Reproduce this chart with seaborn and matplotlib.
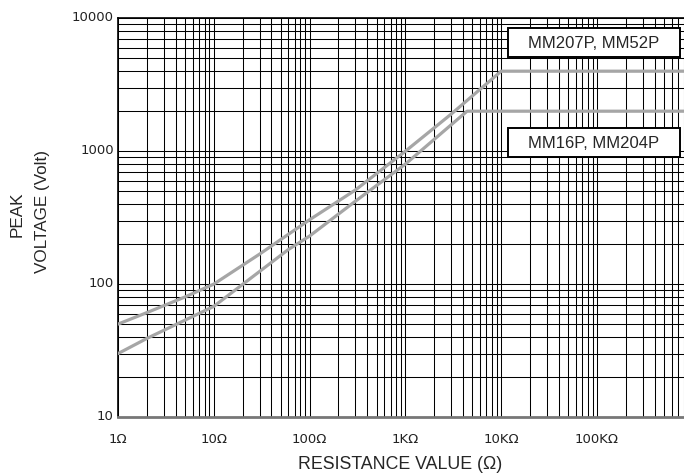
import numpy as np
import pandas as pd
import matplotlib
matplotlib.use("Agg")
import matplotlib.pyplot as plt
import matplotlib.ticker as mticker
import matplotlib.transforms as mtransforms
import seaborn as sns

# ---- data ----
r_upper = [1, 2, 5, 10, 30, 100, 300, 1000, 3000, 10000, 810000]
v_upper = [50, 61, 80, 100, 168, 305, 510, 1000, 1900, 4000, 4000]
r_lower = [1, 2, 10, 60, 100, 300, 1000, 4400, 810000]
v_lower = [30, 39, 68, 182, 230, 420, 800, 2000, 2000]
series_names = ["MM207P, MM52P", "MM16P, MM204P"]

x_ticks = [1, 10, 100, 1000, 10000, 100000]
x_ticklabels = ["1Ω", "10Ω", "100Ω", "1KΩ", "10KΩ", "100KΩ"]
y_ticks = [10, 100, 1000, 10000]
y_ticklabels = ["10", "100", "1000", "10000"]

df = pd.concat([
    pd.DataFrame({"R": r_upper, "V": v_upper, "series": series_names[0]}),
    pd.DataFrame({"R": r_lower, "V": v_lower, "series": series_names[1]}),
], ignore_index=True)

sns.set_style("white")
plt.rcParams["font.family"] = ["Liberation Sans", "DejaVu Sans"]

W, H = 684, 477
fig = plt.figure(figsize=(W / 100, H / 100), dpi=100)
ax_l, ax_r, ax_t, ax_b = 118, 684, 19.3, 418
ax = fig.add_axes([ax_l / W, 1 - ax_b / H, (ax_r - ax_l) / W, (ax_b - ax_t) / H])

sns.lineplot(data=df, x="R", y="V", hue="series", palette=["#a6a6a6", "#a6a6a6"],
             linewidth=2.3, ax=ax, legend=False, sort=False, estimator=None, zorder=3)

ax.set_xscale("log")
ax.set_yscale("log")
ax.set_xlim(1, 10 ** ((ax_r - ax_l) / 95.8))
ax.set_ylim(10, 10000)

ax.xaxis.set_minor_locator(mticker.LogLocator(base=10, subs=np.arange(2, 10), numticks=20))
ax.yaxis.set_minor_locator(mticker.LogLocator(base=10, subs=np.arange(2, 10), numticks=20))
ax.set_xticks(x_ticks)
ax.set_xticklabels(x_ticklabels)
ax.set_yticks(y_ticks)
ax.set_yticklabels(y_ticklabels)
ax.xaxis.set_minor_formatter(mticker.NullFormatter())
ax.yaxis.set_minor_formatter(mticker.NullFormatter())
ax.tick_params(which="both", length=0)
ax.tick_params(axis="x", labelsize=9.5, pad=11, colors="#222222")
ax.tick_params(axis="y", labelsize=9.5, pad=3, colors="#222222")
for lab in ax.get_xticklabels() + ax.get_yticklabels():
    lab.set_family(["DejaVu Sans"])

# y labels sit slightly above their gridline
offset = mtransforms.ScaledTranslation(0, 3 / 100, fig.dpi_scale_trans)
for lab in ax.get_yticklabels():
    lab.set_transform(lab.get_transform() + offset)

ax.grid(which="both", color="black", linewidth=0.75)
ax.set_axisbelow(True)

for s in ["top", "left"]:
    ax.spines[s].set_color("black")
    ax.spines[s].set_linewidth(1.2)
ax.spines["bottom"].set_color("#777777")
ax.spines["bottom"].set_linewidth(2.0)
ax.spines["right"].set_visible(False)

ax.set_xlabel("")
ax.set_ylabel("")

fig.text(400 / W, 1 - 465 / H, "RESISTANCE VALUE (Ω)", ha="center", va="center", fontsize=12.8)
fig.text(17 / W, 1 - 214 / H, "PEAK", ha="center", va="center", rotation=90, fontsize=12.3)
fig.text(43 / W, 1 - 212 / H, "VOLTAGE (Volt)", ha="center", va="center", rotation=90, fontsize=12.3)

# label boxes
for name, (y0, y1) in zip(series_names, [(29.3, 58.3), (129.3, 157.7)]):
    x0, x1 = 507.7, 680
    rect = plt.Rectangle((x0 / W, 1 - y1 / H), (x1 - x0) / W, (y1 - y0) / H,
                         transform=fig.transFigure, facecolor="white", edgecolor="black",
                         linewidth=1.4, zorder=5)
    fig.add_artist(rect)
    fig.text((x0 + x1) / 2 / W, 1 - (y0 + y1) / 2 / H, name, ha="center", va="center",
             fontsize=12, zorder=6)

fig.savefig("out.png", dpi=100)
